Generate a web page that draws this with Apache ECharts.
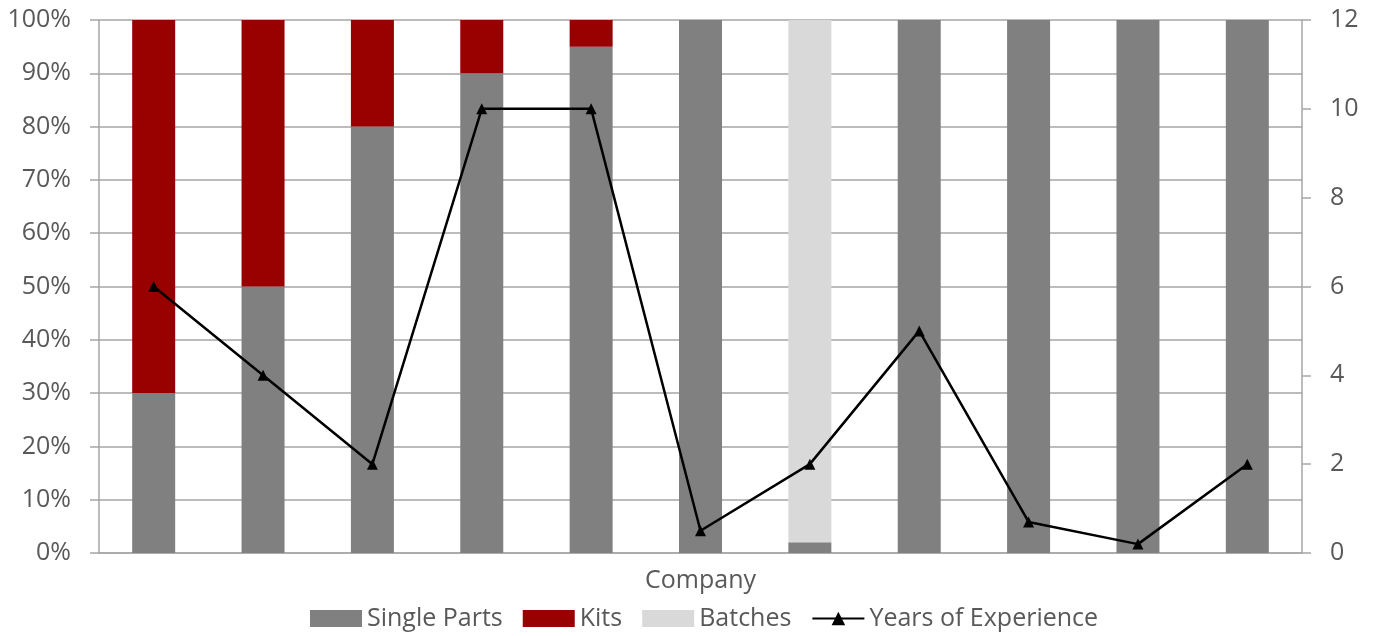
<!DOCTYPE html>
<html>
<head>
<meta charset="utf-8">
<script src="https://cdn.jsdelivr.net/npm/echarts@6/dist/echarts.min.js"></script>
<style>
  html, body { margin: 0; padding: 0; background: #fff; }
  #chart { width: 1377px; height: 636px; }
</style>
</head>
<body>
<div id="chart"></div>
<script>
const companies = ['C1', 'C2', 'C3', 'C4', 'C5', 'C6', 'C7', 'C8', 'C9', 'C10', 'C11'];
const singleParts = [30, 50, 80, 90, 95, 100, 2, 100, 100, 100, 100];
const kits = [70, 50, 20, 10, 5, 0, 0, 0, 0, 0, 0];
const batches = [0, 0, 0, 0, 0, 0, 98, 0, 0, 0, 0];
const yearsOfExperience = [6, 4, 2, 10, 10, 0.5, 2, 5, 0.7, 0.2, 2];

const textColor = '#595959';
const lineGray = '#a6a6a6';
const font = 'Open Sans';

const chart = echarts.init(document.getElementById('chart'));

const barSeries = (name, data, color) => ({
  name,
  type: 'bar',
  stack: 'share',
  data,
  barWidth: 43,
  itemStyle: { color },
  emphasis: { disabled: true }
});

chart.setOption({
  animation: false,
  backgroundColor: '#fff',
  textStyle: { fontFamily: font },
  grid: { left: 99, right: 75, top: 20, bottom: 83 },
  legend: {
    bottom: 0,
    left: 305,
    itemWidth: 52,
    itemHeight: 17,
    itemGap: 20,
    textStyle: { color: textColor, fontSize: 25, fontFamily: font },
    data: [
      { name: 'Single Parts', icon: 'rect' },
      { name: 'Kits', icon: 'rect' },
      { name: 'Batches', icon: 'rect' },
      { name: 'Years of Experience' }
    ]
  },
  xAxis: {
    type: 'category',
    data: companies,
    name: 'Company',
    nameLocation: 'middle',
    nameGap: 15,
    nameTextStyle: { color: textColor, fontSize: 25, fontFamily: font },
    axisLine: { lineStyle: { color: lineGray, width: 1.5 } },
    axisTick: { show: false },
    axisLabel: { show: false }
  },
  yAxis: [
    {
      type: 'value',
      min: 0,
      max: 100,
      interval: 10,
      axisLine: { show: true, lineStyle: { color: lineGray, width: 1.5 } },
      axisTick: { show: true, length: 9, lineStyle: { color: lineGray, width: 1.5 } },
      axisLabel: { color: textColor, fontSize: 25, margin: 28, formatter: '{value}%' },
      splitLine: { lineStyle: { color: lineGray, width: 1.5 } }
    },
    {
      type: 'value',
      min: 0,
      max: 12,
      interval: 2,
      axisLine: { show: true, lineStyle: { color: lineGray, width: 1.5 } },
      axisTick: { show: true, length: 9, lineStyle: { color: lineGray, width: 1.5 } },
      axisLabel: { color: textColor, fontSize: 25, margin: 28 },
      splitLine: { show: false }
    }
  ],
  series: [
    barSeries('Single Parts', singleParts, '#808080'),
    barSeries('Kits', kits, '#990000'),
    barSeries('Batches', batches, '#d9d9d9'),
    {
      name: 'Years of Experience',
      type: 'line',
      yAxisIndex: 1,
      data: yearsOfExperience,
      symbol: 'triangle',
      symbolSize: 11,
      lineStyle: { color: '#000', width: 2.5 },
      itemStyle: { color: '#000' },
      emphasis: { disabled: true }
    }
  ]
});
</script>
</body>
</html>
